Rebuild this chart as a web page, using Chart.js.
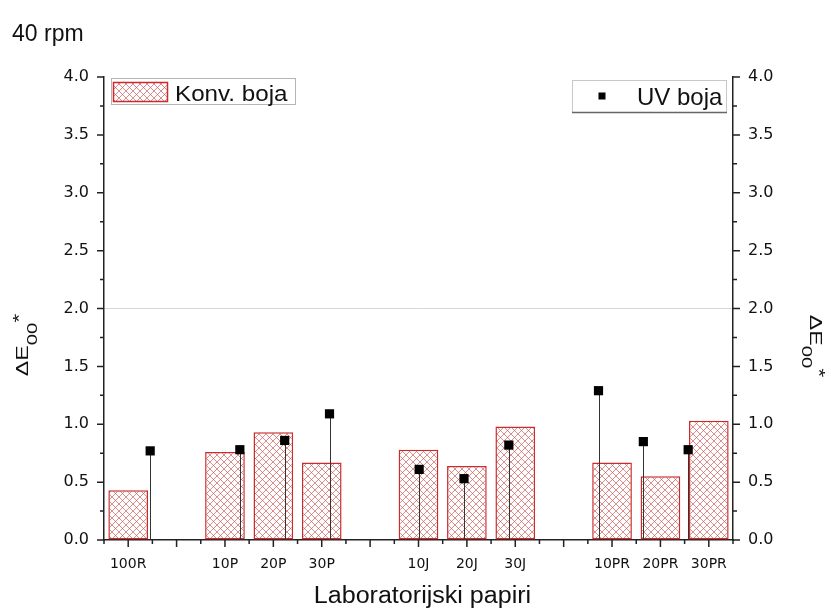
<!DOCTYPE html>
<html>
<head>
<meta charset="utf-8">
<title>40 rpm</title>
<script src="https://cdn.jsdelivr.net/npm/chart.js@4.4.1/dist/chart.umd.min.js"></script>
<style>
  html, body { margin: 0; padding: 0; background: #fff; }
  #wrap { width: 831px; height: 610px; position: relative; }
</style>
</head>
<body>
<div id="wrap"><canvas id="ratechart"></canvas></div>
<script>
// podaci
var categories = ['100R', '', '10P', '20P', '30P', '', '10J', '20J', '30J', '', '10PR', '20PR', '30PR'];
var konvBoja = [0.43, null, 0.76, 0.93, 0.67, null, 0.78, 0.64, 0.98, null, 0.67, 0.55, 1.03];
var uvBoja = [0.77, null, 0.78, 0.86, 1.09, null, 0.61, 0.53, 0.82, null, 1.29, 0.85, 0.78];
var yMin = 0, yMax = 4, yStep = 0.5;

var titleText = '40 rpm';
var xTitle = 'Laboratorijski papiri';
var legendKonv = 'Konv. boja';
var legendUV = 'UV boja';

var SANS = '"Liberation Sans", Arial, sans-serif';
var TICKFONT = '"DejaVu Sans", sans-serif';

// crveni srafirani uzorak za stupce
function makeHatch() {
    var c = document.createElement('canvas');
    c.width = 7; c.height = 7;
    var g = c.getContext('2d');
    g.fillStyle = '#fff';
    g.fillRect(0, 0, 7, 7);
    g.strokeStyle = 'rgba(205,80,80,0.65)';
    g.lineWidth = 1;
    g.beginPath();
    g.moveTo(0, 0); g.lineTo(7, 7);
    g.moveTo(7, 0); g.lineTo(0, 7);
    g.stroke();
    return g.createPattern(c, 'repeat');
}
var hatch = makeHatch();

var uvPoints = [];
categories.forEach(function (c, i) {
    if (uvBoja[i] !== null) uvPoints.push({ x: i, y: uvBoja[i] });
});

function stretchText(ctx, str, x, y, font, sx, align) {
    ctx.save();
    ctx.translate(x, y);
    ctx.scale(sx, 1);
    ctx.font = font;
    ctx.textAlign = align || 'left';
    ctx.textBaseline = 'alphabetic';
    ctx.fillStyle = '#111';
    ctx.fillText(str, 0, 0);
    ctx.restore();
}

// ΔE00* s indeksom
function drawDeltaE(ctx, x, y, rot) {
    ctx.save();
    ctx.translate(x, y);
    ctx.rotate(rot);
    ctx.scale(1.45, 1);
    ctx.fillStyle = '#111';
    ctx.textBaseline = 'alphabetic';
    var fMain = '16px ' + SANS, fSub = '14px ' + SANS;
    ctx.font = fMain;
    var wMain = ctx.measureText('\u0394E').width;
    var wStar = ctx.measureText('*').width;
    ctx.font = fSub;
    var wSub = ctx.measureText('00').width;
    var x0 = -(wMain + wSub + wStar) / 2;
    ctx.font = fMain;
    ctx.fillText('\u0394E', x0, 0);
    ctx.fillText('*', x0 + wMain + wSub, -3);
    ctx.font = fSub;
    ctx.fillText('00', x0 + wMain, 8.5);
    ctx.restore();
}

var decorPlugin = {
    id: 'decor',
    beforeDatasetDraw: function (chart, args) {
        // okomite linije od tocke do nule
        if (chart.data.datasets[args.index].type !== 'scatter') return;
        var ctx = chart.ctx;
        var y0 = chart.scales.y.getPixelForValue(0);
        ctx.save();
        ctx.strokeStyle = '#333';
        ctx.lineWidth = 1;
        args.meta.data.forEach(function (p) {
            ctx.beginPath();
            ctx.moveTo(Math.round(p.x) + 0.5, p.y);
            ctx.lineTo(Math.round(p.x) + 0.5, y0);
            ctx.stroke();
        });
        ctx.restore();
    },
    afterDraw: function (chart) {
        var ctx = chart.ctx;
        var xs = chart.scales.x, yl = chart.scales.y;
        var area = chart.chartArea;
        ctx.save();
        ctx.strokeStyle = '#222';
        ctx.lineWidth = 1.5;
        ctx.beginPath();
        // y ticks, major + minor
        for (var v = yMin; v <= yMax + 1e-9; v += yStep / 2) {
            var py = yl.getPixelForValue(v);
            var major = Math.abs(v / yStep - Math.round(v / yStep)) < 1e-6;
            var len = major ? 7 : 4;
            ctx.moveTo(area.left, py); ctx.lineTo(area.left - len, py);
            ctx.moveTo(area.right, py); ctx.lineTo(area.right + len, py);
        }
        // x ticks
        for (var i = 0; i < categories.length; i++) {
            var px = xs.getPixelForValue(i);
            ctx.moveTo(px, area.bottom); ctx.lineTo(px, area.bottom + 7);
        }
        for (var j = 0; j <= categories.length; j++) {
            var pb = xs.getPixelForValue(j - 0.5);
            ctx.moveTo(pb, area.bottom); ctx.lineTo(pb, area.bottom + 4);
        }
        ctx.stroke();
        ctx.restore();

        // naslovi
        stretchText(ctx, titleText, 12, 41, '23px ' + SANS, 1, 'left');
        stretchText(ctx, xTitle, (area.left + area.right) / 2 + 4, 603, '23px ' + SANS, 1.09, 'center');
        drawDeltaE(ctx, 28, 345, -Math.PI / 2);
        drawDeltaE(ctx, 810, 346, Math.PI / 2);

        // legenda lijevo
        ctx.save();
        ctx.fillStyle = '#fff';
        ctx.fillRect(111, 78, 184, 26);
        ctx.strokeStyle = '#b5b5b5';
        ctx.lineWidth = 1;
        ctx.strokeRect(111.5, 78.5, 184, 26);
        ctx.fillStyle = hatch;
        ctx.fillRect(113, 82, 55, 20);
        ctx.strokeStyle = '#cc2b2b';
        ctx.lineWidth = 1.5;
        ctx.strokeRect(113.5, 82.5, 54, 19);
        ctx.restore();
        stretchText(ctx, legendKonv, 175, 101, '22px ' + SANS, 1.1, 'left');

        // legenda desno
        ctx.save();
        ctx.fillStyle = '#fff';
        ctx.fillRect(572, 80, 154, 32);
        ctx.strokeStyle = '#c8c8c8';
        ctx.lineWidth = 1;
        ctx.strokeRect(572.5, 80.5, 154, 32);
        ctx.strokeStyle = '#666';
        ctx.lineWidth = 1.5;
        ctx.beginPath();
        ctx.moveTo(572, 112.5); ctx.lineTo(727, 112.5);
        ctx.stroke();
        ctx.fillStyle = '#000';
        ctx.fillRect(598.5, 92.5, 7, 7);
        ctx.restore();
        stretchText(ctx, legendUV, 637, 105, '24px ' + SANS, 1, 'left');
    }
};

var ratechart = document.getElementById('ratechart');

var myChart = new Chart(ratechart, {
    type: 'bar',
    data: {
        labels: categories,
        datasets: [{
            type: 'bar',
            label: legendKonv,
            data: konvBoja,
            backgroundColor: hatch,
            borderColor: '#cc2b2b',
            borderWidth: 1.5,
            borderSkipped: false,
            grouped: false,
            barPercentage: 0.82,
            categoryPercentage: 1,
            order: 2
        }, {
            type: 'scatter',
            label: legendUV,
            data: uvPoints,
            xAxisID: 'x2',
            yAxisID: 'y',
            pointStyle: 'rect',
            pointRadius: 6.5,
            backgroundColor: '#000',
            borderColor: '#000',
            borderWidth: 0,
            showLine: false,
            order: 1
        }]
    },
    options: {
        responsive: true,
        maintainAspectRatio: false,
        animation: false,
        layout: { padding: { top: 77, left: 0, right: 0, bottom: 0 } },
        plugins: {
            legend: { display: false },
            title: { display: false },
            tooltip: { enabled: false }
        },
        scales: {
            x: {
                type: 'category',
                offset: true,
                grid: { display: false, drawTicks: false },
                border: { display: true, color: '#222', width: 1.5 },
                ticks: {
                    autoSkip: false, maxRotation: 0, padding: 16,
                    color: '#111',
                    font: { family: TICKFONT, size: 14 }
                },
                afterFit: function (s) { s.height = 70; }
            },
            x2: {
                type: 'linear',
                display: false,
                offset: false,
                bounds: 'data',
                min: -1.03,
                max: 13.0,
                grid: { offset: false }
            },
            y: {
                position: 'left',
                min: yMin, max: yMax,
                grid: {
                    drawTicks: false,
                    lineWidth: 1,
                    color: function (c) {
                        return c.tick && c.tick.value === 2 ? '#d6d6d6' : 'rgba(0,0,0,0)';
                    }
                },
                border: { display: true, color: '#222', width: 1.5 },
                ticks: {
                    stepSize: yStep, padding: 15, color: '#111',
                    font: { family: TICKFONT, size: 16 },
                    callback: function (v) { return v.toFixed(1); }
                },
                afterFit: function (s) { s.width = 104; }
            },
            y1: {
                position: 'right',
                min: yMin, max: yMax,
                grid: { display: false, drawTicks: false },
                border: { display: true, color: '#222', width: 1.5 },
                ticks: {
                    stepSize: yStep, padding: 15, color: '#111',
                    font: { family: TICKFONT, size: 16 },
                    callback: function (v) { return v.toFixed(1); }
                },
                afterFit: function (s) { s.width = 98; }
            }
        }
    },
    plugins: [decorPlugin]
});
</script>
</body>
</html>
